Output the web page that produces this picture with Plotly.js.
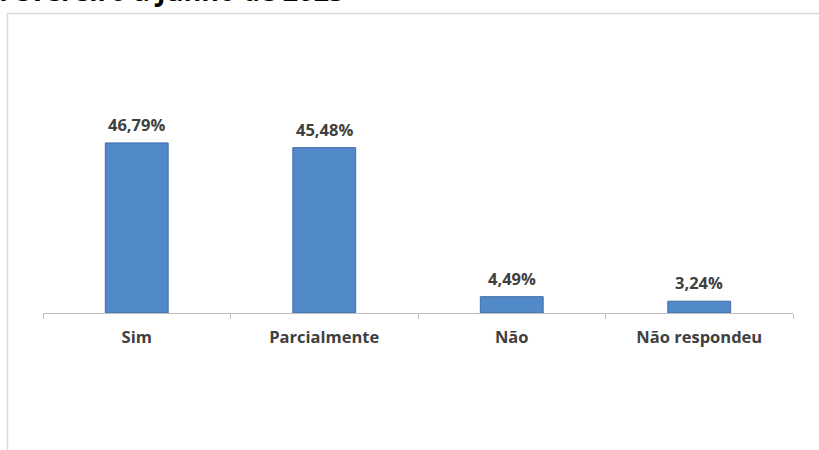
<!DOCTYPE html>
<html>
<head>
<meta charset="utf-8">
<script src="https://cdn.plot.ly/plotly-3.0.1.min.js"></script>
<style>html,body{margin:0;padding:0;background:#fff;}#chart{width:819px;height:450px;}</style>
</head>
<body>
<div id="chart"></div>
<script>
const categories = ["Sim", "Parcialmente", "Não", "Não respondeu"];
const values = [46.79, 45.48, 4.49, 3.24];
const labels = ["46,79%", "45,48%", "4,49%", "3,24%"];
const titleText = "Fevereiro a Junho de 2023";

const FONT = "Open Sans, Liberation Sans, sans-serif";
const trace = {
  type: "bar",
  x: categories,
  y: values,
  marker: {color: "#5289c9", line: {color: "#3d6da6", width: 1}},
  hoverinfo: "skip"
};

const annotations = categories.map((c, i) => ({
  x: c, y: values[i], xref: "x", yref: "y",
  text: "<b>" + labels[i] + "</b>", showarrow: false,
  yanchor: "bottom", yshift: 5,
  font: {family: FONT, size: 16.5, color: "#404040"}
}));
annotations.push({
  xref: "paper", yref: "paper", x: -0.061, y: 1.106, xanchor: "left", yanchor: "bottom",
  text: "<b>" + titleText + "</b>", showarrow: false,
  font: {family: FONT, size: 27, color: "#000"}
});

const layout = {
  width: 819, height: 450,
  margin: {l: 43, r: 26, t: 40, b: 137},
  paper_bgcolor: "#fff", plot_bgcolor: "#fff",
  showlegend: false,
  bargap: 0.665,
  xaxis: {
    showline: true, linecolor: "#bfbfbf", linewidth: 1,
    ticks: "outside", tickson: "boundaries", ticklen: 5, tickcolor: "#bfbfbf",
    tickfont: {family: FONT, size: 16.5, color: "#404040", weight: "bold"},
    ticklabelstandoff: 9,
    showgrid: false, zeroline: false, fixedrange: true
  },
  yaxis: {range: [0, 75.1], visible: false, showgrid: false, zeroline: false, fixedrange: true},
  annotations: annotations,
  shapes: [{
    type: "rect", xref: "paper", yref: "paper",
    x0: (7.5 - 43) / 750, x1: (825 - 43) / 750,
    y0: (313 - 460) / 273, y1: (313 - 13.5) / 273,
    line: {color: "#d9d9d9", width: 1.5}, fillcolor: "rgba(0,0,0,0)", layer: "below"
  }]
};

Plotly.newPlot("chart", [trace], layout, {displayModeBar: false, staticPlot: true});
</script>
</body>
</html>
